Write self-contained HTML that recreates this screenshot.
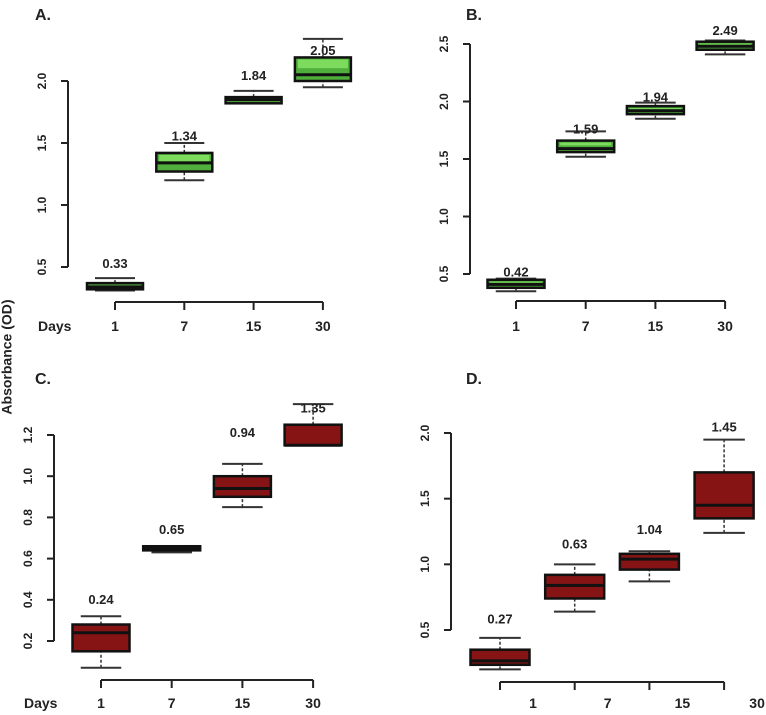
<!DOCTYPE html>
<html><head><meta charset="utf-8"><style>
body{margin:0;background:#fff;}
svg{display:block;font-family:"Liberation Sans",sans-serif;font-weight:bold;}
</style></head><body>
<svg id="c" width="766" height="715">
<text x="8" y="357" font-size="14" transform="rotate(-90 8 357)" text-anchor="middle" dominant-baseline="middle" fill="#222">Absorbance (OD)</text>
</svg>
<script>
const categories = ["1","7","15","30"];
// [lowerWhisker, q1, median, q3, upperWhisker]
const seriesA = [[0.31,0.32,0.34,0.37,0.41],[1.2,1.27,1.34,1.42,1.5],[1.82,1.82,1.85,1.87,1.92],[1.95,2.0,2.05,2.19,2.34]];
const seriesB = [[0.35,0.38,0.41,0.45,0.46],[1.52,1.56,1.59,1.66,1.74],[1.85,1.89,1.92,1.96,1.99],[2.41,2.45,2.48,2.52,2.53]];
const seriesC = [[0.07,0.15,0.24,0.28,0.32],[0.63,0.64,0.65,0.66,0.66],[0.85,0.9,0.94,1.0,1.06],[1.15,1.15,1.15,1.25,1.35]];
const seriesD = [[0.2,0.235,0.265,0.35,0.44],[0.64,0.74,0.84,0.92,1.0],[0.87,0.96,1.04,1.08,1.1],[1.24,1.35,1.45,1.7,1.95]];
const labelsA = ["0.33","1.34","1.84","2.05"];
const labelsB = ["0.42","1.59","1.94","2.49"];
const labelsC = ["0.24","0.65","0.94","1.35"];
const labelsD = ["0.27","0.63","1.04","1.45"];
const labelValsA = [0.49,1.52,2.01,2.21];
const labelValsB = [0.48,1.72,2.0,2.58];
const labelValsC = [0.38,0.72,1.19,1.31];
const labelValsD = [0.55,1.12,1.23,2.01];
const ticksA = [0.5,1.0,1.5,2.0];
const ticksB = [0.5,1.0,1.5,2.0,2.5];
const ticksC = [0.2,0.4,0.6,0.8,1.0,1.2];
const ticksD = [0.5,1.0,1.5,2.0];

const svg=document.getElementById('c');
const NS='http://www.w3.org/2000/svg';
function mk(tag,attrs,parent){const e=document.createElementNS(NS,tag);for(const k in attrs)e.setAttribute(k,attrs[k]);(parent||svg).appendChild(e);return e;}

const panels=[
 {id:'a',title:'A.',tx:35,ty:20,series:seriesA,labels:labelsA,lv:labelValsA,ticks:ticksA,dec:1,v0:0.5,p0:267,v1:2.0,p1:81,axX:68,x0:115,dx:69.3,bw:56,xAxY:302,labY:331,labOff:0,days:true,green:true},
 {id:'b',title:'B.',tx:466,ty:20,series:seriesB,labels:labelsB,lv:labelValsB,ticks:ticksB,dec:1,v0:0.5,p0:274,v1:2.5,p1:44,axX:470,x0:516,dx:69.7,bw:57,xAxY:301,labY:331,labOff:0,days:false,green:true},
 {id:'c',title:'C.',tx:35,ty:384,series:seriesC,labels:labelsC,lv:labelValsC,ticks:ticksC,dec:1,v0:0.2,p0:641,v1:1.2,p1:435,axX:54,x0:101,dx:70.7,bw:57,xAxY:680,labY:708,labOff:0,days:true,green:false},
 {id:'d',title:'D.',tx:466,ty:384,series:seriesD,labels:labelsD,lv:labelValsD,ticks:ticksD,dec:1,v0:0.5,p0:630,v1:2.0,p1:433,axX:451,x0:500,dx:74.7,bw:59,xAxY:682,labY:708,labOff:33,days:false,green:false}
];

panels.forEach(p=>{
 const g=mk('g',{});
 
 
 const y=v=>p.p0+(v-p.v0)*(p.p1-p.p0)/(p.v1-p.v0);
 const x=i=>p.x0+i*p.dx;
 const t=mk('text',{x:p.tx,y:p.ty,'font-size':16,fill:'#222'},g);t.textContent=p.title;
 
 
 const ya=mk('g',{},g);
 
 
 mk('line',{x1:p.axX,x2:p.axX,y1:y(p.ticks[0]),y2:y(p.ticks[p.ticks.length-1]),stroke:'#222','stroke-width':2},ya);
 p.ticks.forEach(tv=>{
  mk('line',{x1:p.axX-7,x2:p.axX,y1:y(tv),y2:y(tv),stroke:'#222','stroke-width':2},ya);
  const lx=p.axX-22;
  const tt=mk('text',{x:lx,y:y(tv),'font-size':12,fill:'#222','text-anchor':'middle',transform:`rotate(-90 ${lx} ${y(tv)})`},ya);
  tt.textContent=tv.toFixed(p.dec);
  
  
 });
 const xa=mk('g',{},g);
 
 
 mk('line',{x1:x(0),x2:x(categories.length-1),y1:p.xAxY,y2:p.xAxY,stroke:'#222','stroke-width':2},xa);
 categories.forEach((c,i)=>{
  mk('line',{x1:x(i),x2:x(i),y1:p.xAxY,y2:p.xAxY+8,stroke:'#222','stroke-width':2},xa);
  const tl=mk('text',{x:x(i)+p.labOff,y:p.labY,'font-size':14,fill:'#222','text-anchor':'middle'},xa);
  tl.textContent=c;
  
  
 });
 if(p.days){const d=mk('text',{x:p.axX-30,y:p.labY,'font-size':14,fill:'#222'},xa);d.textContent='Days';
  
  }
 p.series.forEach((s,i)=>{
  const bg=mk('g',{},g);
  
  
  const cx=x(i),hw=p.bw/2,wh=p.bw/4+6;
  mk('line',{x1:cx,x2:cx,y1:y(s[0]),y2:y(s[1]),stroke:'#333','stroke-width':1.5,'stroke-dasharray':'3,2'},bg);
  mk('line',{x1:cx,x2:cx,y1:y(s[3]),y2:y(s[4]),stroke:'#333','stroke-width':1.5,'stroke-dasharray':'3,2'},bg);
  mk('line',{x1:cx-wh,x2:cx+wh,y1:y(s[0]),y2:y(s[0]),stroke:'#333','stroke-width':2},bg);
  mk('line',{x1:cx-wh,x2:cx+wh,y1:y(s[4]),y2:y(s[4]),stroke:'#333','stroke-width':2},bg);
  const top=y(s[3]),bot=y(s[1]);
  const fill=p.green?'#4fae3c':'#861414';
  mk('rect',{x:cx-hw,y:top,width:p.bw,height:Math.max(bot-top,2),fill:fill,stroke:'#111','stroke-width':2.5},bg);
  if(p.green&&bot-top>4){
   mk('rect',{x:cx-hw+3,y:top+2,width:p.bw-6,height:Math.max((bot-top)/2-3,1),fill:'#7ddc5e'},bg);
  }
  mk('line',{x1:cx-hw,x2:cx+hw,y1:y(s[2]),y2:y(s[2]),stroke:'#111','stroke-width':3},bg);
  const vl=mk('text',{x:cx,y:y(p.lv[i]),'font-size':13,fill:'#222','text-anchor':'middle'},bg);
  vl.textContent=p.labels[i];
  
  
 });
});
</script>
</body></html>
